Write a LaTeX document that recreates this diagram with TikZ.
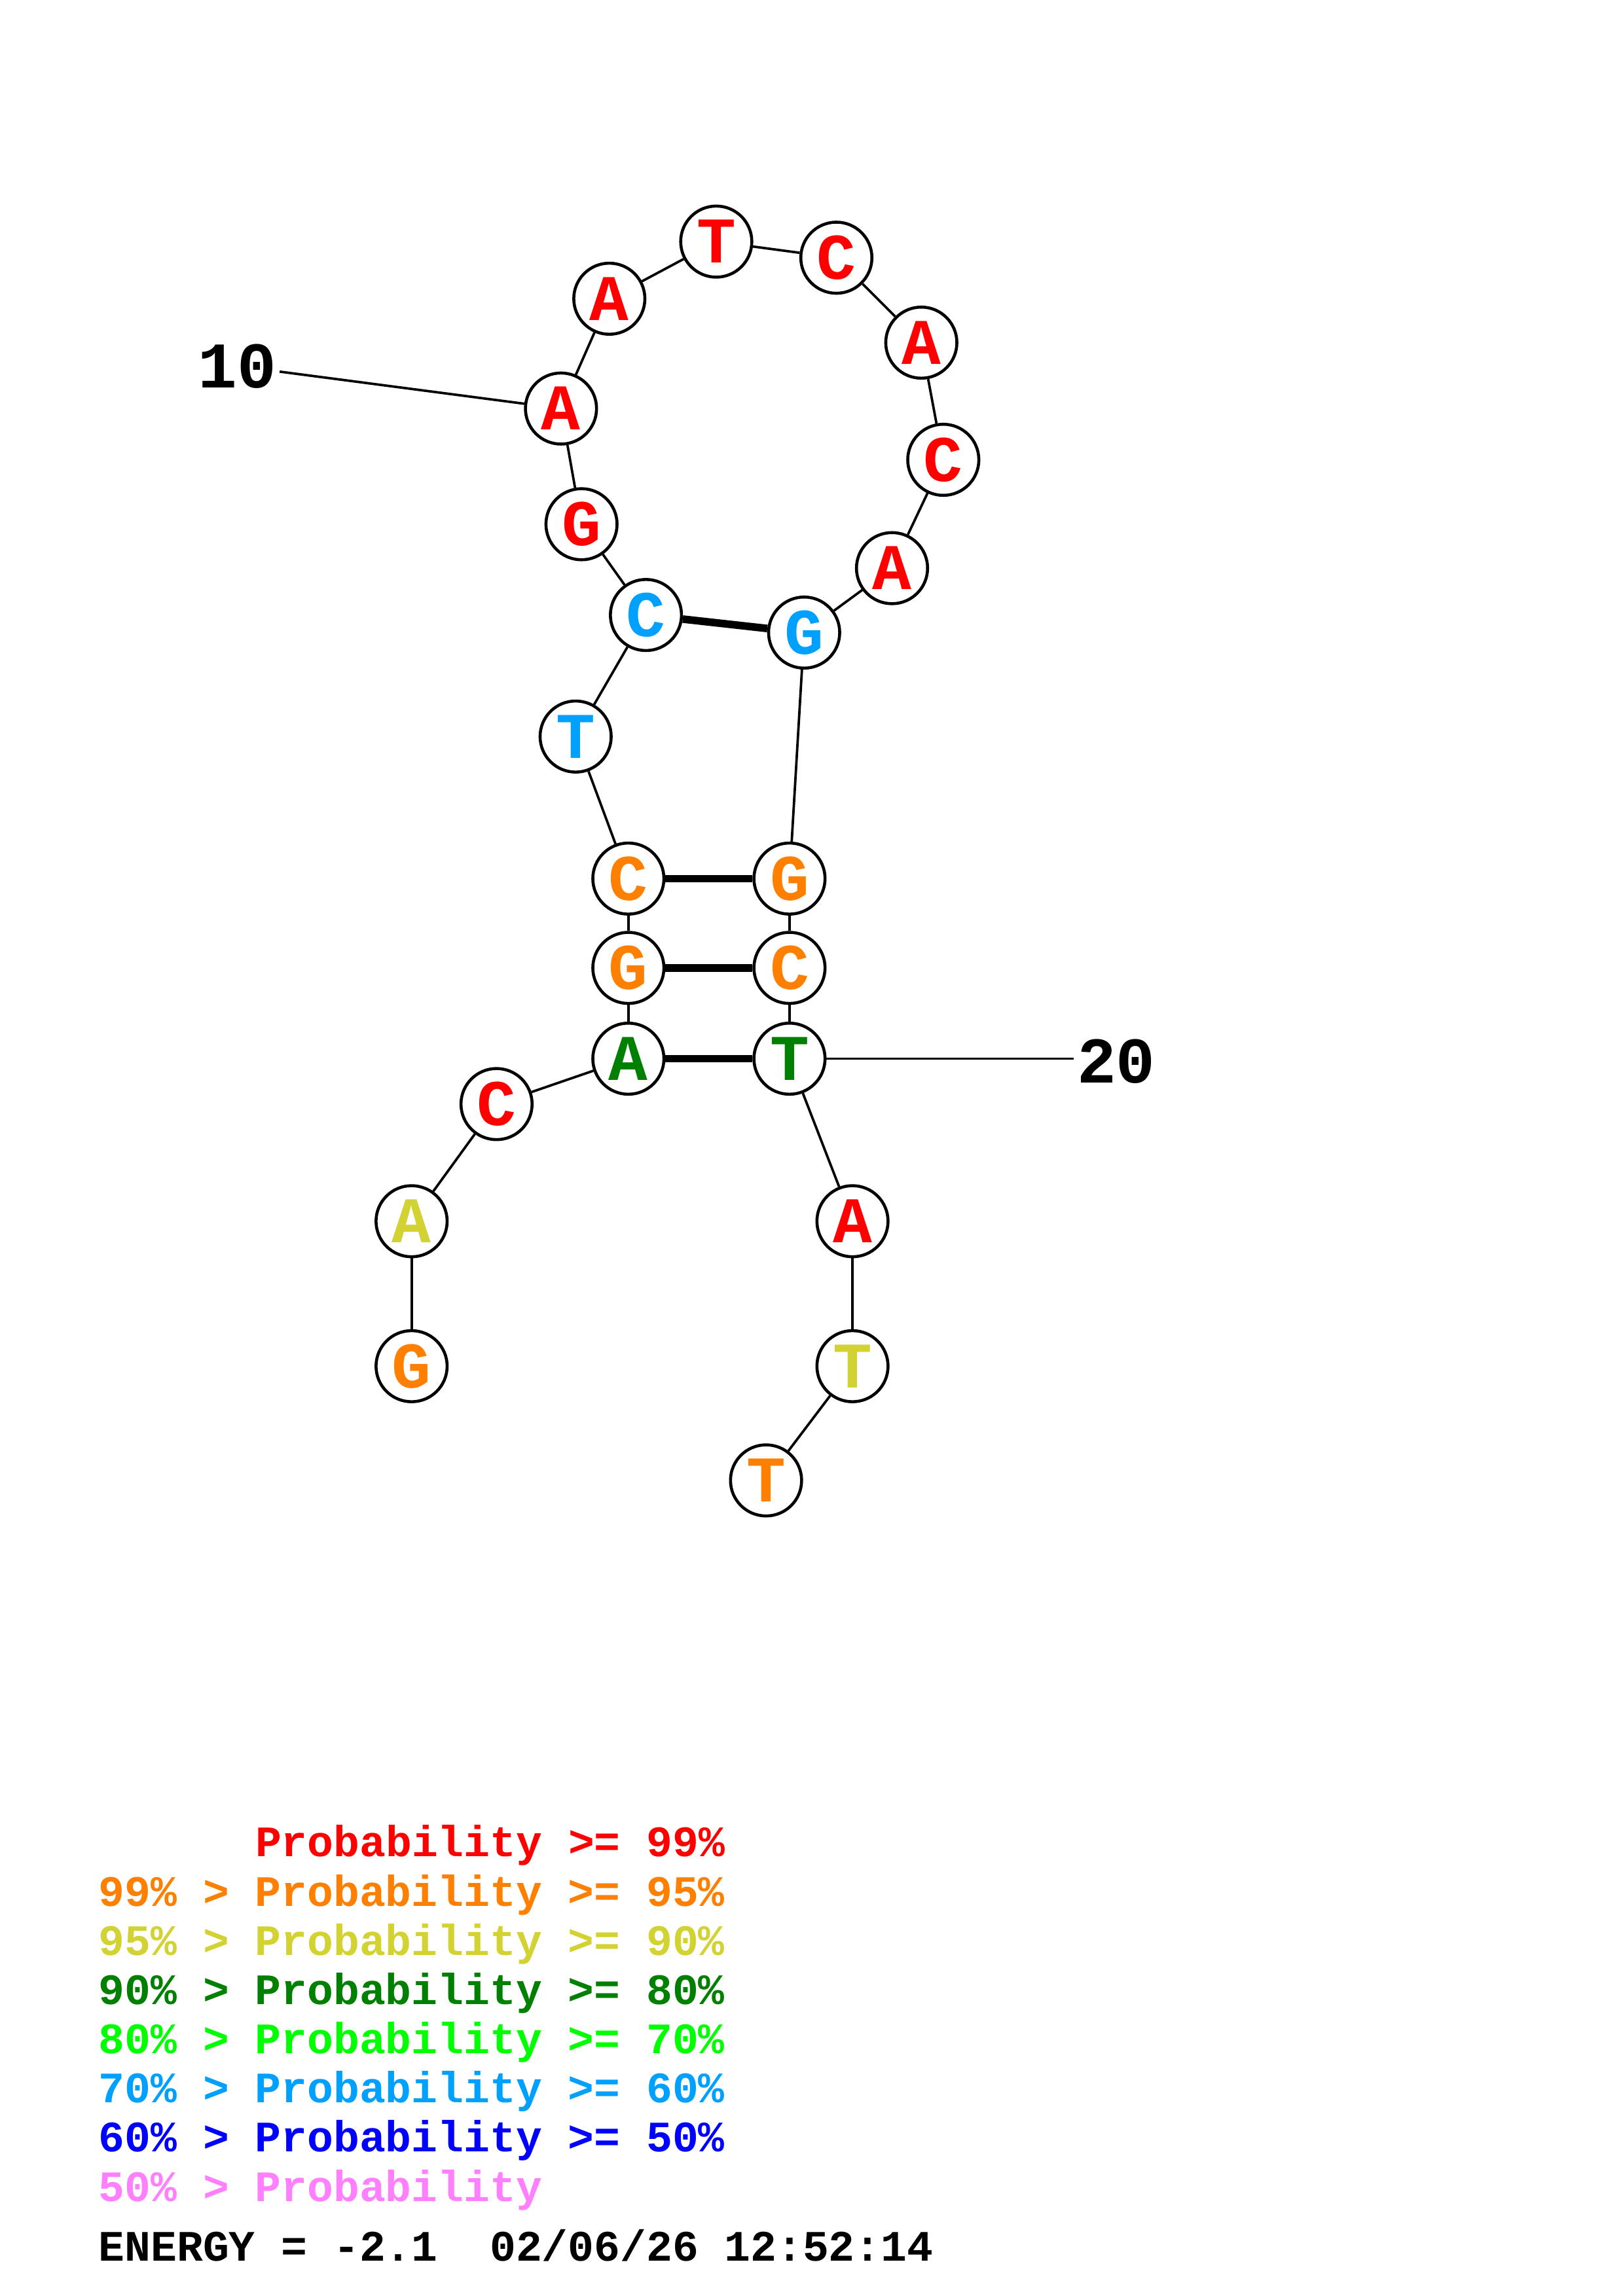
\documentclass[tikz,border=0pt]{standalone}
\usepackage{fontspec}
\setmonofont{Liberation Mono}
\usepackage{tikz}

\definecolor{pr99}{RGB}{255,0,0}
\definecolor{pr95}{RGB}{255,128,0}
\definecolor{pr90}{RGB}{210,210,50}
\definecolor{pr80}{RGB}{0,128,0}
\definecolor{pr70}{RGB}{0,255,0}
\definecolor{pr60}{RGB}{0,160,255}
\definecolor{pr50}{RGB}{0,0,255}
\definecolor{prlow}{RGB}{255,128,255}

\begin{document}
\begin{tikzpicture}[x=0.018953cm, y=-0.018953cm,
    nuc/.style={circle, draw, line width=1.1pt, fill=white, minimum size=0.92cm,
      inner sep=0pt, font=\ttfamily\bfseries\fontsize{24}{24}\selectfont},
    bond/.style={line width=0.9pt},
    pair/.style={line width=2.8pt},
    numlabel/.style={inner sep=1pt, font=\ttfamily\bfseries\fontsize{24}{24}\selectfont},
    legendrow/.style={anchor=base west, inner sep=0pt,
      font=\ttfamily\bfseries\fontsize{16}{16}\selectfont}]

    \useasboundingbox (0,0) rectangle (1108,1568);

    \node[nuc, text=pr95] (n1) at (281,933) {G};
    \node[nuc, text=pr90] (n2) at (281,834) {A};
    \node[nuc, text=pr99] (n3) at (339,754) {C};
    \node[nuc, text=pr80] (n4) at (429,723) {A};
    \node[nuc, text=pr95] (n5) at (429,661) {G};
    \node[nuc, text=pr95] (n6) at (429,600) {C};
    \node[nuc, text=pr60] (n7) at (393,503) {T};
    \node[nuc, text=pr60] (n8) at (441,420) {C};
    \node[nuc, text=pr99] (n9) at (397,358) {G};
    \node[nuc, text=pr99] (n10) at (383,279) {A};
    \node[nuc, text=pr99] (n11) at (416,204) {A};
    \node[nuc, text=pr99] (n12) at (489,165) {T};
    \node[nuc, text=pr99] (n13) at (571,176) {C};
    \node[nuc, text=pr99] (n14) at (629,234) {A};
    \node[nuc, text=pr99] (n15) at (644,314) {C};
    \node[nuc, text=pr99] (n16) at (609,388) {A};
    \node[nuc, text=pr60] (n17) at (549,432) {G};
    \node[nuc, text=pr95] (n18) at (539,600) {G};
    \node[nuc, text=pr95] (n19) at (539,661) {C};
    \node[nuc, text=pr80] (n20) at (539,723) {T};
    \node[nuc, text=pr99] (n21) at (582,834) {A};
    \node[nuc, text=pr90] (n22) at (582,933) {T};
    \node[nuc, text=pr95] (n23) at (523,1011) {T};

    \foreach \i [evaluate=\i as \j using int(\i+1)] in {1,...,22}
      \draw[bond] (n\i) -- (n\j);

    \draw[pair] (n8) -- (n17);
    \draw[pair] (n6) -- (n18);
    \draw[pair] (n5) -- (n19);
    \draw[pair] (n4) -- (n20);

    \node[numlabel] (l10) at (162,250) {10};
    \node[numlabel] (l20) at (762,725) {20};
    \draw[bond] (l10) -- (n10);
    \draw[bond] (n20) -- (n20 -| l20.west);

    \node[legendrow, text=pr99] (r1) at (174,1268) {Probability >= 99\%};
    \node[legendrow, text=pr95] (r2) at (67,1301.6) {99\% > Probability >= 95\%};
    \node[legendrow, text=pr90] (r3) at (67,1335.2) {95\% > Probability >= 90\%};
    \node[legendrow, text=pr80] (r4) at (67,1368.8) {90\% > Probability >= 80\%};
    \node[legendrow, text=pr70] (r5) at (67,1402.4) {80\% > Probability >= 70\%};
    \node[legendrow, text=pr60] (r6) at (67,1436) {70\% > Probability >= 60\%};
    \node[legendrow, text=pr50] (r7) at (67,1469.6) {60\% > Probability >= 50\%};
    \node[legendrow, text=prlow] (r8) at (67,1503.2) {50\% > Probability};
    \node[legendrow] (energy) at (67,1544) {ENERGY = -2.1~~02/06/26 12:52:14};
  \end{tikzpicture}
\end{document}
